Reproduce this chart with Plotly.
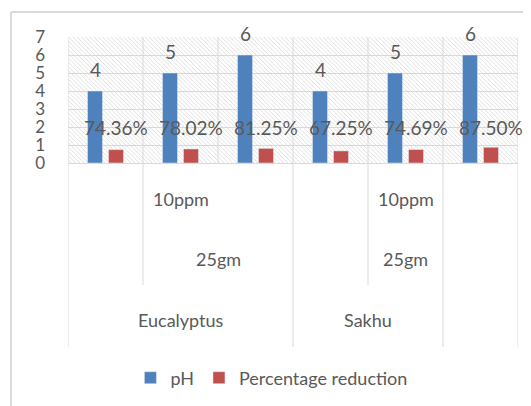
import base64
import plotly.graph_objects as go

# ─── Data ────────────────────────────────────────────────────────────────────
categories = ["Eucalyptus pH 4", "Eucalyptus pH 5", "Eucalyptus pH 6",
              "Sakhu pH 4", "Sakhu pH 5", "Sakhu pH 6"]
ph_values = [4, 5, 6, 4, 5, 6]
reduction = [0.7436, 0.7802, 0.8125, 0.6725, 0.7469, 0.8750]

# multi-level axis text: (label, category position, paper y)
axis_labels = [("10ppm", 1, 0.477), ("25gm", 1.5, 0.284), ("Eucalyptus", 1, 0.087),
               ("10ppm", 4, 0.477), ("25gm", 4, 0.284), ("Sakhu", 3.5, 0.087)]

BLUE, RED = "#4F81BD", "#C0504D"
GRID, TXT = "#D9D9D9", "#595959"
FONT = "Lato"
Y_DOM = 0.5935   # bottom of the bar area, rest is the category axis block


def hatch_uri(w=450, h=126):
    """Light diagonal hatch like the Excel plot area fill."""
    svg = (f'<svg xmlns="http://www.w3.org/2000/svg" width="{w}" height="{h}">'
           '<defs><pattern id="p" width="3" height="3" patternUnits="userSpaceOnUse" '
           'patternTransform="rotate(-45)">'
           '<line x1="0" y1="0" x2="0" y2="3" stroke="#D4D4D4" stroke-width="1"/>'
           '</pattern></defs>'
           f'<rect width="{w}" height="{h}" fill="url(#p)"/></svg>')
    return "data:image/svg+xml;base64," + base64.b64encode(svg.encode()).decode()


fig = go.Figure()
fig.add_trace(go.Bar(x=categories, y=ph_values, name="pH", marker_color=BLUE))
fig.add_trace(go.Bar(x=categories, y=reduction, name="Percentage reduction",
                     marker_color=RED))

# data labels
for i, (p, r) in enumerate(zip(ph_values, reduction)):
    fig.add_annotation(x=i, y=p, text=str(p), showarrow=False, xshift=-10.5,
                       yanchor="bottom", yshift=8,
                       font=dict(family=FONT, size=19, color=TXT))
    fig.add_annotation(x=i, y=1.95, text=f"{r*100:.2f}%", showarrow=False,
                       xshift=10.5, font=dict(family=FONT, size=19, color=TXT))

# category axis text
for lab, xpos, ypos in axis_labels:
    fig.add_annotation(x=xpos, y=ypos, xref="x", yref="paper", text=lab,
                       showarrow=False, xanchor="center", yanchor="middle",
                       font=dict(family=FONT, size=18, color=TXT))

# category boundaries (bar area + multi-level axis block)
bounds = [-0.5, 0.5, 1.5, 2.5, 3.5, 4.5, 5.5]
bottoms = [0, 0.2, Y_DOM, 0, 0.2, 0, 0]
for bx, by in zip(bounds, bottoms):
    fig.add_shape(type="line", xref="x", yref="paper", x0=bx, x1=bx, y0=by, y1=1,
                  line=dict(color=GRID, width=1))

# outer chart border (left + top, rest falls outside the crop)
fig.add_shape(type="line", xref="paper", yref="paper", x0=-0.1267, x1=-0.1267,
              y0=-0.2, y1=1.0806, line=dict(color=GRID, width=2))
fig.add_shape(type="line", xref="paper", yref="paper", x0=-0.1267, x1=1.05,
              y0=1.0806, y1=1.0806, line=dict(color=GRID, width=2))

fig.add_layout_image(source=hatch_uri(), xref="x domain", yref="y domain",
                     x=0, y=1, sizex=1, sizey=1, xanchor="left", yanchor="top",
                     sizing="stretch", layer="below")

# page body keeps its default 8px margin, so the figure is 8px smaller
fig.update_layout(
    width=523, height=398,
    margin=dict(l=60, r=13, t=29, b=59, autoexpand=False),
    paper_bgcolor="white", plot_bgcolor="rgba(0,0,0,0)",
    barmode="group", bargap=0.44, bargroupgap=0.286,
    font=dict(family=FONT, color=TXT),
    showlegend=True,
    legend=dict(orientation="h", x=0.452, xanchor="center", y=-0.1,
                yanchor="middle", font=dict(family=FONT, size=18, color=TXT)),
    xaxis=dict(showticklabels=False, showgrid=False, zeroline=False,
               showline=False, ticks="", range=[-0.5, 5.5], automargin=False),
    yaxis=dict(domain=[Y_DOM, 1], range=[0, 7], dtick=1, showgrid=True,
               gridcolor=GRID, zeroline=True, zerolinecolor=GRID,
               zerolinewidth=1, showline=False, ticks="", automargin=False,
               ticklabelstandoff=22,
               tickfont=dict(family=FONT, size=17, color=TXT)),
)

fig.write_html("out.html")
